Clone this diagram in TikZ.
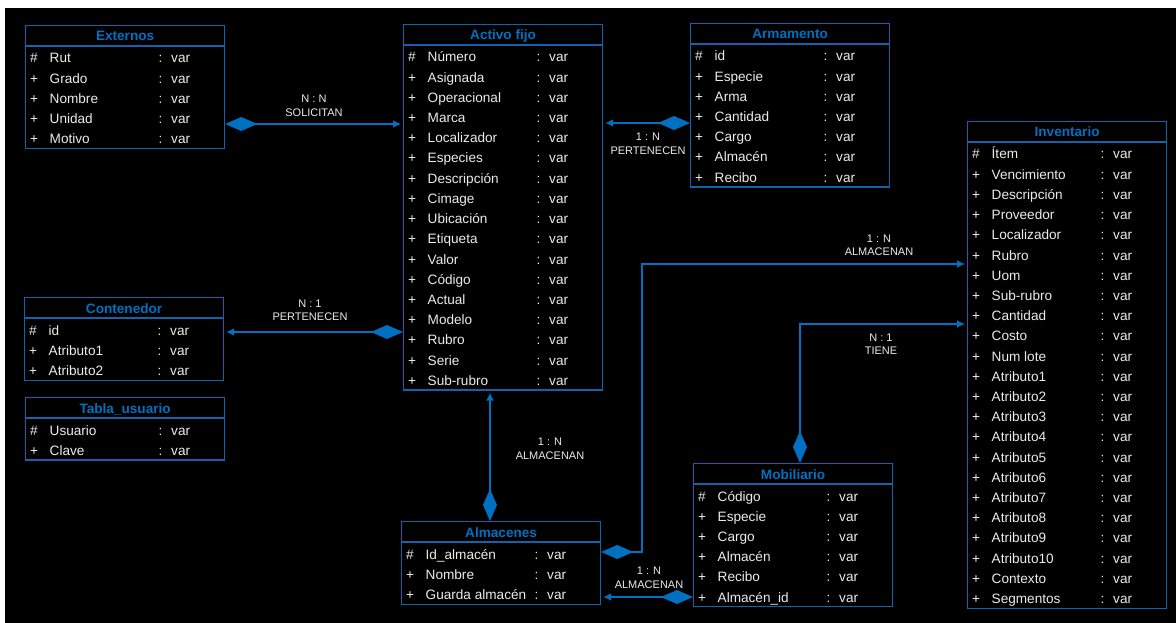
\documentclass[tikz,border=0pt]{standalone}
\usepackage{fontspec}
\setmainfont{Liberation Sans}
\usepackage{xcolor}
\usepackage{tikz}
\usetikzlibrary{arrows.meta}
\definecolor{azul}{RGB}{0,112,192}
\definecolor{borde}{RGB}{20,98,172}
\definecolor{gris}{RGB}{235,235,235}

\begin{document}
\begin{tikzpicture}[x=1pt, y=-1pt,
  tabla/.style={draw=borde, line width=1.2pt, anchor=north west,
    minimum width=199pt, inner sep=0pt},
  titulo/.style={text=azul, inner sep=0pt, anchor=base, font=\fontsize{13.6}{16}\selectfont\bfseries},
  campo/.style={text=gris, anchor=base west, inner sep=0pt, font=\fontsize{13.6}{16}\selectfont},
  etiq/.style={text=gris, align=center, inner sep=0pt, font=\fontsize{11}{13.5}\selectfont},
  rel/.style={draw=azul, line width=2.6pt,
    {Diamond[length=32pt,width=14pt]}-{Latex[length=8pt,width=8pt]}, shorten >=2pt}]
  \useasboundingbox (0,0) rectangle (1176,623);
  \fill[white] (0,0) rectangle (1176,623);
  \fill[black] (5,8) rectangle (1176,623);

  % tablas
  \foreach \id/\x/\y/\n/\tit/\filas in {
    ext/25/25/5/Externos/{\#/Rut,+/Grado,+/Nombre,+/Unidad,+/Motivo},
    act/403/24/17/Activo fijo/{\#/Número,+/Asignada,+/Operacional,+/Marca,
      +/Localizador,+/Especies,+/Descripción,+/Cimage,+/Ubicación,+/Etiqueta,
      +/Valor,+/Código,+/Actual,+/Modelo,+/Rubro,+/Serie,+/Sub-rubro},
    arm/690/23/7/Armamento/{\#/id,+/Especie,+/Arma,+/Cantidad,+/Cargo,
      +/Almacén,+/Recibo},
    inv/967/121/23/Inventario/{\#/Ítem,+/Vencimiento,+/Descripción,+/Proveedor,
      +/Localizador,+/Rubro,+/Uom,+/Sub-rubro,+/Cantidad,+/Costo,+/Num lote,
      +/Atributo1,+/Atributo2,+/Atributo3,+/Atributo4,+/Atributo5,+/Atributo6,
      +/Atributo7,+/Atributo8,+/Atributo9,+/Atributo10,+/Contexto,+/Segmentos},
    cont/24/297/3/Contenedor/{\#/id,+/Atributo1,+/Atributo2},
    usr/25/397/2/Tabla\_usuario/{\#/Usuario,+/Clave},
    alm/401/521/3/Almacenes/{\#/Id\_almacén,+/Nombre,+/Guarda almacén},
    mob/693/463/6/Mobiliario/{\#/Código,+/Especie,+/Cargo,+/Almacén,
      +/Recibo,+/Almacén\_id}}{
    \node[tabla, minimum height=22pt+20.2pt*\n] (\id) at (\x,\y) {};
    \node[titulo] (\id-t) at ([yshift=-16pt]\id.north) {\tit};
    \draw[borde, line width=2pt] ([yshift=-21pt]\id.north west) -- ([yshift=-21pt]\id.north east);
    \foreach \s/\c [count=\i from 0] in \filas {
      \pgfmathsetmacro\dy{-38-20.2*\i}
      \node[campo] (\id-\i) at ([xshift=5pt,yshift=\dy pt]\id.north west) {\s};
      \node[campo] at ([xshift=24.5pt,yshift=\dy pt]\id.north west) {\c};
      \node[campo, anchor=base] at ([xshift=135.5pt,yshift=\dy pt]\id.north west) {:};
      \node[campo] at ([xshift=146pt,yshift=\dy pt]\id.north west) {var};
    }
  }

  % relaciones
  \coordinate (c1) at (642,264);
  \coordinate (c2) at (800,324);
  \draw[rel] (ext.east |- 0,124) -- (act.west |- 0,124);
  \draw[rel] (arm.west |- 0,123) -- (act.east |- 0,123);
  \draw[rel] (act.west |- 0,332) -- (cont.east |- 0,332);
  \draw[rel] (alm.north -| 490,0) -- (act.south -| 490,0);
  \draw[rel] (alm.east |- 0,552) -| (c1) -- (inv.west |- c1);
  \draw[rel] (mob.north -| c2) |- (inv.west |- c2);
  \draw[rel] (mob.west |- 0,597) -- (alm.east |- 0,597);

  % etiquetas
  \node[etiq] (l-sol) at (314,106) {N : N\\SOLICITAN};
  \node[etiq] (l-arm) at (648,144) {1 : N\\PERTENECEN};
  \node[etiq] (l-cont) at (310,310.5) {N : 1\\PERTENECEN};
  \node[etiq] (l-alm) at (550,449) {1 : N\\ALMACENAN};
  \node[etiq] (l-inv) at (879,245.5) {1 : N\\ALMACENAN};
  \node[etiq] (l-tiene) at (881,344) {N : 1\\TIENE};
  \node[etiq] (l-mob) at (649,578) {1 : N\\ALMACENAN};
\end{tikzpicture}
\end{document}
